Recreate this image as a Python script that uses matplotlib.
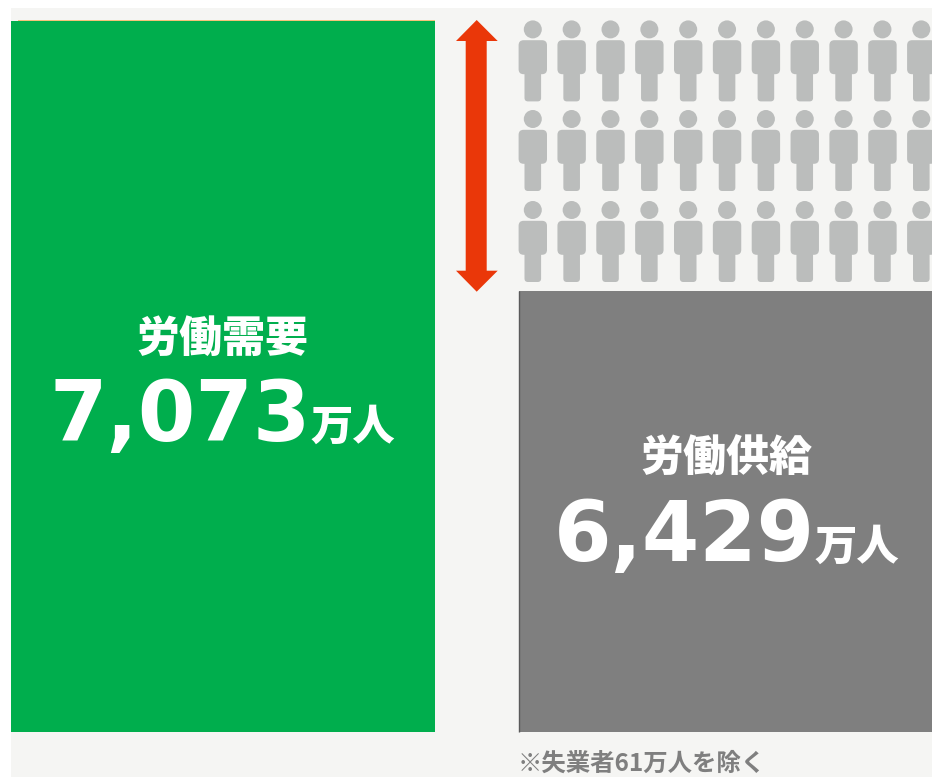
import matplotlib
matplotlib.use("Agg")
import matplotlib.pyplot as plt
from matplotlib.patches import Circle, FancyBboxPatch, Polygon, Rectangle

plt.rcParams['font.family'] = ['Noto Sans CJK JP', 'DejaVu Sans']

# data
categories = ["労働需要", "労働供給"]
values = [7073, 6429]
value_labels = ["7,073", "6,429"]
unit = "万人"
note = "※失業者61万人を除く"
bar_colors = ["#00AE4D", "#7F7F7F"]

W, H = 932, 777
fig = plt.figure(figsize=(W / 100, H / 100), dpi=100, facecolor="white")

# back axes is in picture pixels, y going down
ax = fig.add_axes([0, 0, 1, 1], zorder=1)
ax.set_xlim(0, W)
ax.set_ylim(H, 0)
ax.axis("off")
ax.add_patch(Rectangle((11, 8), W - 11, H - 8, fc="#F5F5F3", ec="none"))

# thin orange line peeking out above the green bar
ax.add_patch(Rectangle((18, 19.8), 417, 2, fc="#F6C27A", ec="none"))

# people rows
person_color = "#BBBDBC"
head_rows = [29.4, 119, 210]
for head_y in head_rows:
    for col in range(11):
        cx = 532.8 + col * 38.85
        ax.add_patch(Circle((cx, head_y), 9, fc=person_color, ec="none"))
        ax.add_patch(FancyBboxPatch((cx - 14.2 + 5, head_y + 10.8 + 5), 28.4 - 10, 34 - 10,
                                    boxstyle="round,pad=5", fc=person_color, ec="none"))
        ax.add_patch(FancyBboxPatch((cx - 8.3 + 3.5, head_y + 30), 16.6 - 7, 42 - 3.5,
                                    boxstyle="round,pad=3.5", fc=person_color, ec="none"))

# double arrow
ax.add_patch(Polygon([(476.7, 20), (497.7, 41), (486.7, 41), (486.7, 270.7), (497.7, 270.7),
                      (476.7, 291.7), (456, 270.7), (465.7, 270.7), (465.7, 41), (456, 41)],
                     closed=True, fc="#EA3709", ec="none"))

# front axes: x in pixels, y in people, the scale is cut off like in the picture
per_px = (values[0] - values[1]) / (291 - 21)
val_at = lambda p: values[0] - (p - 21) * per_px
base = val_at(732)
ax2 = fig.add_axes([0, 0, 1, 1], zorder=2)
ax2.patch.set_alpha(0)
ax2.set_xlim(0, W)
ax2.set_ylim(val_at(H), val_at(0))
ax2.axis("off")
ax2.bar([223, 725.5], [v - base for v in values], width=[424, 413], bottom=base, color=bar_colors)

# dark edge on the left of the gray bar
ax2.plot([518.8, 518.8], [values[1], base], color="#5A5A5A", lw=1.0, solid_capstyle="butt")

# labels
name_x = [222, 726]
name_y = [339, 458]
num_x = [49.5, 553.5]
num_base = [441, 561]
unit_x = [311, 815]
for i in range(2):
    ax2.text(name_x[i], name_y[i], categories[i], transform=ax.transData, color="white",
             fontsize=31, fontweight="black", ha="center", va="center")
    ax2.text(num_x[i], num_base[i], value_labels[i], transform=ax.transData, color="white",
             fontsize=59.5, fontweight="bold", ha="left", va="baseline", family="DejaVu Sans")
    ax2.text(unit_x[i], num_base[i] - 1, unit, transform=ax.transData, color="white",
             fontsize=30.5, fontweight="black", ha="left", va="baseline")

ax2.text(518, 764, note, transform=ax.transData, color="#7F7F7F",
         fontsize=17.6, fontweight="bold", ha="left", va="center")

fig.savefig("out.png", dpi=100)
